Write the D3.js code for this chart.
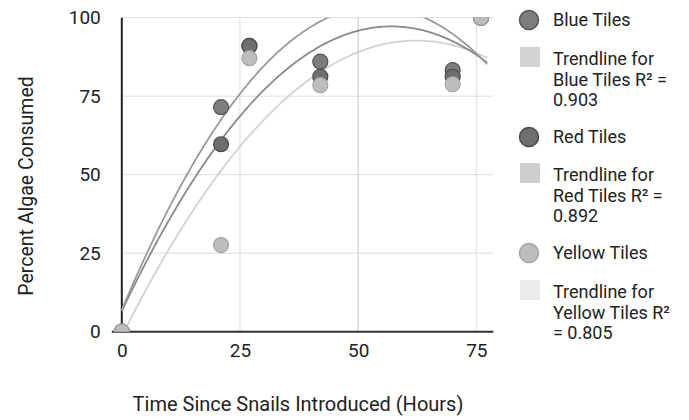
<!DOCTYPE html>
<html><head><meta charset="utf-8">
<script src="https://cdn.jsdelivr.net/npm/d3@7"></script>
<style>
html,body{margin:0;padding:0;background:#fff;}
svg{display:block;font-family:Roboto,"Noto Sans",sans-serif;}
</style></head>
<body>
<svg id="chart" width="689" height="420"></svg>
<script>
// ---- data ----
const times = [0, 21, 27, 42, 70, 76];
const blueValues = [0, 71.5, 91, 86, 83.3, 100];
const redValues = [0, 59.7, 91, 81.2, 81.2, 100];
const yellowValues = [0, 27.6, 87.1, 78.5, 78.8, 100];
// quadratic trendline coefficients [a, b, c] : y = a + b*x + c*x^2
const blueTrend = [6.9, 3.587, -0.0333];
const redTrend = [6.55, 3.181, -0.0279];
const yellowTrend = [-1.5, 3.026, -0.0243];
const seriesNames = ["Blue Tiles", "Red Tiles", "Yellow Tiles"];
const trendLabels = [
  ["Trendline for", "Blue Tiles R² =", "0.903"],
  ["Trendline for", "Red Tiles R² =", "0.892"],
  ["Trendline for", "Yellow Tiles R²", "= 0.805"]
];
const xTicks = [0, 25, 50, 75];
const yTicks = [0, 25, 50, 75, 100];
const xMax = 78.6;
const trendEnd = 77.3;

// ---- styles ----
const pointFill = ["#7d7d7d", "#6e6e6e", "#bdbdbd"];
const pointStroke = ["#555", "#4a4a4a", "#a5a5a5"];
const trendColor = ["#9a9a9a", "#8a8a8a", "#d2d2d2"];
const swatchColor = ["#d4d4d4", "#cdcdcd", "#ececec"];

const svg = d3.select("#chart");
const x = d3.scaleLinear().domain([0, 75]).range([121.8, 476.3]);
const y = d3.scaleLinear().domain([0, 100]).range([331.7, 17.7]);
const x0 = x(0), x1 = x(xMax), yTop = y(100), yBot = y(0);

svg.append("defs").append("clipPath").attr("id", "clip")
  .append("rect").attr("x", x0 - 10).attr("y", yTop).attr("width", x1 - x0 + 10).attr("height", yBot - yTop);

// grid
const grid = svg.append("g");
grid.selectAll("line.h").data(yTicks.filter(d => d > 0)).enter().append("line")
  .attr("x1", x0).attr("x2", x1).attr("y1", d => y(d)).attr("y2", d => y(d))
  .attr("stroke", "#dcdcdc").attr("stroke-width", 1);
grid.selectAll("line.v").data(xTicks.filter(d => d > 0)).enter().append("line")
  .attr("x1", d => x(d)).attr("x2", d => x(d)).attr("y1", yTop).attr("y2", yBot)
  .attr("stroke", d => d === 50 ? "#c8c8c8" : "#dcdcdc").attr("stroke-width", 1);

// axes lines
svg.append("line").attr("x1", x0).attr("x2", x0).attr("y1", yTop).attr("y2", yBot)
  .attr("stroke", "#222").attr("stroke-width", 2);
svg.append("line").attr("x1", x0 - 10).attr("x2", x1).attr("y1", yBot).attr("y2", yBot)
  .attr("stroke", "#333").attr("stroke-width", 2);

// tick labels
const xAxis = d3.axisBottom(x).tickValues(xTicks).tickSize(0).tickPadding(12);
const gx = svg.append("g").attr("transform", `translate(0,${yBot})`).call(xAxis);
gx.select(".domain").remove();
gx.selectAll("text").attr("font-size", 19).attr("fill", "#222").attr("font-family", "Roboto");
const yAxis = d3.axisLeft(y).tickValues(yTicks).tickSize(0).tickPadding(21);
const gy = svg.append("g").attr("transform", `translate(${x0},0)`).call(yAxis);
gy.select(".domain").remove();
gy.selectAll("text").attr("font-size", 19).attr("fill", "#222").attr("font-family", "Roboto");

// axis titles
svg.append("text").attr("x", 298).attr("y", 411).attr("text-anchor", "middle")
  .attr("font-size", 20).attr("fill", "#222").text("Time Since Snails Introduced (Hours)");
svg.append("text").attr("transform", `translate(33,186) rotate(-90)`)
  .attr("text-anchor", "middle").attr("font-size", 19.5).attr("fill", "#222").text("Percent Algae Consumed");

// trendlines
const plot = svg.append("g").attr("clip-path", "url(#clip)");
const trends = [blueTrend, redTrend, yellowTrend];
const samples = d3.range(0, trendEnd + 0.001, trendEnd / 200);
const line = d3.line().x(d => x(d[0])).y(d => y(d[1])).curve(d3.curveLinear);
[2, 1, 0].forEach(i => {
  const t = trends[i];
  plot.append("path")
    .attr("d", line(samples.map(s => [s, t[0] + t[1] * s + t[2] * s * s])))
    .attr("fill", "none").attr("stroke", trendColor[i]).attr("stroke-width", 1.8);
});

// points
const series = [blueValues, redValues, yellowValues];
series.forEach((vals, i) => {
  plot.selectAll(null).data(times.map((t, k) => [t, vals[k]])).enter().append("circle")
    .attr("cx", d => x(d[0])).attr("cy", d => y(d[1])).attr("r", 7.5)
    .attr("fill", pointFill[i]).attr("stroke", pointStroke[i]).attr("stroke-width", 1.2);
});

// legend
const lg = svg.append("g");
const markerY = [20, 137, 253];
const swatchY = [57, 173, 290];
seriesNames.forEach((name, i) => {
  lg.append("circle").attr("cx", 529).attr("cy", markerY[i]).attr("r", 9.5)
    .attr("fill", pointFill[i]).attr("stroke", pointStroke[i]).attr("stroke-width", 1.5);
  lg.append("text").attr("x", 553).attr("y", markerY[i]).attr("dy", "0.35em")
    .attr("font-size", 18).attr("fill", "#222").text(name);
  lg.append("rect").attr("x", 520).attr("y", swatchY[i] - 10).attr("width", 20).attr("height", 20)
    .attr("fill", swatchColor[i]);
  trendLabels[i].forEach((ln, j) => {
    lg.append("text").attr("x", 553).attr("y", swatchY[i] + 2 + j * 20.5).attr("dy", "0.35em")
      .attr("font-size", 18).attr("fill", "#222").text(ln);
  });
});
</script>
</body></html>
